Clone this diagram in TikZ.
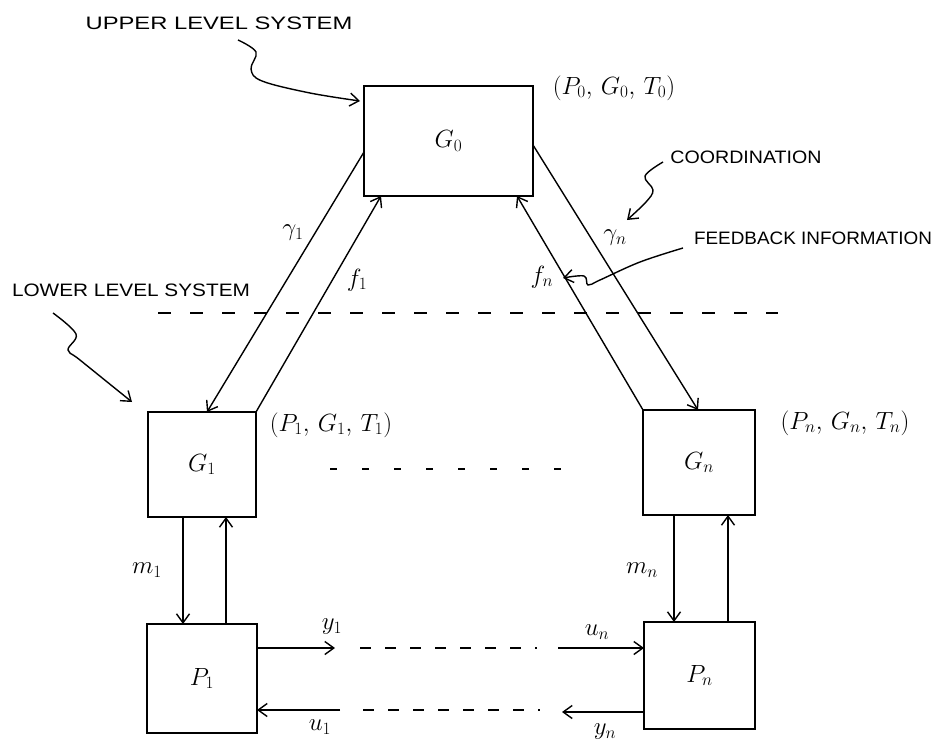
\documentclass[tikz,border=0pt]{standalone}
\usepackage{fontspec}
\usepackage{graphicx}
\newfontfamily\hand{Liberation Sans}
\usetikzlibrary{arrows.meta,calc}
\begin{document}
\begin{tikzpicture}[x=1pt,y=-1pt,
  box/.style={draw,line width=1.6pt,inner sep=0pt,outer sep=0pt,font=\fontsize{26}{28}\selectfont},
  arr/.style={line width=1.4pt,-{Straight Barb[length=9pt,width=13pt,line width=1.4pt]}},
  dsh/.style={line width=1.6pt,dash pattern=on 13pt off 19pt},
  dshm/.style={line width=1.9pt,dash pattern=on 7pt off 25pt},
  dshb/.style={line width=1.6pt,dash pattern=on 11pt off 14pt},
  note/.style={inner sep=0pt,font=\hand\fontsize{18}{20}\selectfont},
  lbl/.style={inner sep=0pt,font=\fontsize{25}{27}\selectfont},
  tup/.style={inner sep=0pt,font=\fontsize{25}{27}\selectfont},
]
\useasboundingbox (0,0) rectangle (949,749);
\fill[white] (0,0) rectangle (949,749);

% boxes
\node[box,minimum width=169pt,minimum height=110pt] (G0) at (448.5,141) {$G_0$};
\node[box,minimum width=108pt,minimum height=105pt] (G1) at (202,464.5) {$G_1$};
\node[box,minimum width=112pt,minimum height=105pt] (Gn) at (699,462.5) {$G_n$};
\node[box,minimum width=110pt,minimum height=109pt] (P1) at (202,678.5) {$P_1$};
\node[box,minimum width=111pt,minimum height=107pt] (Pn) at (699.5,675.5) {$P_n$};

% tuples
\node[tup] (t0) at (614,88) {$(P_0,\,G_0,\,T_0)$};
\node[tup] (t1) at (331,425) {$(P_1,\,G_1,\,T_1)$};
\node[tup] (tn) at (845,423) {$(P_n,\,G_n,\,T_n)$};

% dashed separators
\draw[dsh] (158,313) -- (778,313);
\draw[dshm] (330,469) -- (578,469);
\draw[dshb] (360,648) -- (537,648);
\draw[dshb] (363,710) -- (540,710);

% coordination / feedback links
\draw[arr] ($(G0.north west)+(0,66)$) -- ($(G1.north west)+(59,0)$);
\draw[arr] (G1.north east) -- ($(G0.south west)+(17,0)$);
\draw[arr] ($(G0.north east)+(0,59)$) -- ($(Gn.north west)+(55,0)$);
\draw[arr] (Gn.north west) -- ($(G0.south east)+(-16,0)$);

% local loops
\draw[arr] ([xshift=35pt]G1.south west) -- ([xshift=35pt]G1.south west |- P1.north);
\draw[arr] ([xshift=78pt]G1.south west |- P1.north) -- ([xshift=78pt]G1.south west);
\draw[arr] ([xshift=31pt]Gn.south west) -- ([xshift=31pt]Gn.south west |- Pn.north);
\draw[arr] ([xshift=85pt]Gn.south west |- Pn.north) -- ([xshift=85pt]Gn.south west);

% interactions
\coordinate (y1e) at (335,648);
\coordinate (u1s) at (340,710);
\coordinate (uns) at (558,648);
\coordinate (yne) at (562,712);
\draw[arr] (y1e -| P1.east) -- (y1e);
\draw[arr] (u1s) -- (u1s -| P1.east);
\draw[arr] (uns) -- (uns -| Pn.west);
\draw[arr] (yne -| Pn.west) -- (yne);

% labels
\node[lbl] (lg1) at (293,233) {$\gamma_1$};
\node[lbl] (lf1) at (357,280) {$f_1$};
\node[lbl] (lgn) at (615,238) {$\gamma_n$};
\node[lbl] (lfn) at (542,277) {$f_n$};
\node[lbl] (lm1) at (147,570) {$m_1$};
\node[lbl] (lmn) at (642,570) {$m_n$};
\node[lbl] (ly1) at (332,627) {$y_1$};
\node[lbl] (lu1) at (320,727) {$u_1$};
\node[lbl] (lun) at (597,632) {$u_n$};
\node[lbl] (lyn) at (605,732) {$y_n$};

% annotations
\node[note] (ul) at (219,23) {\scalebox{1.32}[1]{UPPER LEVEL SYSTEM}};
\node[note] (co) at (746,157) {\scalebox{1.09}[1]{COORDINATION}};
\node[note] (fb) at (813,238) {\scalebox{1.05}[1]{FEEDBACK INFORMATION}};
\node[note] (ll) at (131,290) {\scalebox{1.155}[1]{LOWER LEVEL SYSTEM}};

\coordinate (ulS) at (238,40);
\coordinate (llS) at (53,313);
\coordinate (coS) at (663,162);
\coordinate (fbS) at (683,248);
\draw[arr] plot[smooth,tension=0.6] coordinates {(ulS) (256,52) (251,69) (262,81) (310,93) (360,101)};
\draw[arr] plot[smooth,tension=0.6] coordinates {(llS) (76,334) (68,350) (80,360) (132,402)};
\draw[arr] plot[smooth,tension=0.6] coordinates {(coS) (645,176) (653,190) (646,202) (627,220)};
\draw[arr] plot[smooth,tension=0.6] coordinates {(fbS) (640,262) (600,280) (588,285) (584,276) (563,278)};
\end{tikzpicture}
\end{document}
